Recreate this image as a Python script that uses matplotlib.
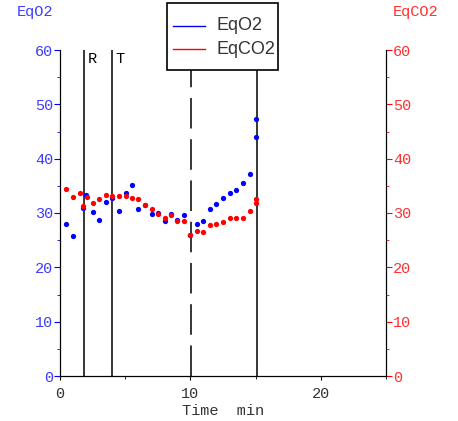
import matplotlib.pyplot as plt
from matplotlib.ticker import MultipleLocator
from matplotlib.patches import Rectangle
from matplotlib.lines import Line2D

# -------------------------
# Data
# -------------------------
t_o2 = [0.46, 0.97, 1.74, 2.0, 2.5, 3.0, 3.49, 4.0, 4.54, 5.03, 5.51, 6.0, 6.5,
        7.03, 7.5, 8.03, 8.5, 9.0, 9.51, 10.0, 10.5, 11.0, 11.5, 12.0, 12.5,
        13.05, 13.5, 14.0, 14.54, 15.05, 15.05]
eq_o2 = [28.0, 25.8, 31.0, 33.3, 30.1, 28.8, 32.0, 32.7, 30.4, 33.7, 35.1, 30.8, 31.4,
         29.8, 30.0, 28.6, 29.8, 28.8, 29.6, 26.0, 27.9, 28.6, 30.7, 31.7, 32.7,
         33.6, 34.2, 35.6, 37.1, 44.0, 47.3]

t_co2 = [0.46, 0.97, 1.54, 1.74, 2.05, 2.5, 3.0, 3.49, 4.0, 4.54, 5.03, 5.51, 6.0,
         6.5, 7.03, 7.54, 8.03, 8.5, 9.0, 9.51, 10.0, 10.5, 11.0, 11.5, 12.0,
         12.5, 13.05, 13.5, 14.0, 14.54, 15.05, 15.05]
eq_co2 = [34.5, 33.0, 33.7, 31.3, 32.9, 31.8, 32.5, 33.3, 33.1, 33.1, 33.2, 32.7, 32.5,
          31.4, 30.7, 29.9, 29.1, 29.6, 28.5, 28.5, 26.0, 26.6, 26.5, 27.7, 27.9,
          28.3, 29.0, 29.1, 29.1, 30.4, 31.9, 32.6]

marker_times = [1.85, 4.0, 15.1]
marker_labels = ["R", "T", ""]
dashed_time = 10.05

mono = "Liberation Mono"
W, H = 458, 421

# -------------------------
# Figure
# -------------------------
fig = plt.figure(figsize=(W/100, H/100), dpi=100)
ax = fig.add_axes([60/W, 1-376/H, 326/W, 326/H])
ax2 = ax.twinx()

ax.set_xlim(0, 25)
ax.set_ylim(0, 60)
ax2.set_ylim(0, 60)

for t in marker_times:
    ax.axvline(t, color="black", lw=1.1)
dl = ax.axvline(dashed_time, color="black", lw=1.1)
dl.set_dashes((20, 7))

for t, lab in zip(marker_times, marker_labels):
    if lab:
        ax.text(t + 0.25, 58.4, lab, family=mono, fontsize=11, va="center", ha="left")

ax.plot(t_o2, eq_o2, "o", color="blue", ms=3.8, mec="none")
ax.plot(t_co2, eq_co2, "o", color="red", ms=3.8, mec="none")

# spines
for a in (ax, ax2):
    a.spines["top"].set_visible(False)

ax.xaxis.set_major_locator(MultipleLocator(10))
ax.xaxis.set_minor_locator(MultipleLocator(5))
ax.yaxis.set_major_locator(MultipleLocator(10))
ax.yaxis.set_minor_locator(MultipleLocator(5))
ax2.yaxis.set_major_locator(MultipleLocator(10))
ax2.yaxis.set_minor_locator(MultipleLocator(5))

ax.tick_params(axis="x", which="major", direction="out", length=3, color="black",
               labelcolor="#333333", labelsize=11, pad=5)
ax.tick_params(axis="x", which="minor", direction="out", length=2)
ax.tick_params(axis="y", which="major", direction="out", length=4, color="blue",
               labelcolor="#3c3cff", labelsize=11, pad=1)
ax.tick_params(axis="y", which="minor", direction="out", length=2, color="blue")
ax2.tick_params(axis="y", which="major", direction="out", length=4, color="red",
                labelcolor="#ff3030", labelsize=11, pad=1)
ax2.tick_params(axis="y", which="minor", direction="out", length=2, color="red")

for lab in ax.get_xticklabels() + ax.get_yticklabels() + ax2.get_yticklabels():
    lab.set_family(mono)

ax.set_xlabel("Time  min", family=mono, fontsize=11, color="#333333", labelpad=2)

fig.text(17/W, 1-12/H, "EqO2", color="#3c3cff", family=mono, fontsize=11, va="center")
fig.text(393/W, 1-12/H, "EqCO2", color="#ff3030", family=mono, fontsize=11, va="center")

# legend box drawn in figure pixels
fig.patches.append(Rectangle((167/W, 1-70/H), 111/W, 67/H, transform=fig.transFigure,
                             facecolor="white", edgecolor="black", lw=1.2, zorder=5))
for yy, col, name in [(26, "blue", "EqO2"), (49, "red", "EqCO2")]:
    fig.lines.append(Line2D([173/W, 205/W], [1-yy/H, 1-yy/H], transform=fig.transFigure,
                            color=col, lw=1, zorder=6))
    fig.text(216/W, 1-yy/H, name, color="#333333", family="Liberation Sans",
             fontsize=13, va="center", zorder=6)

fig.savefig("out.png", dpi=100)
